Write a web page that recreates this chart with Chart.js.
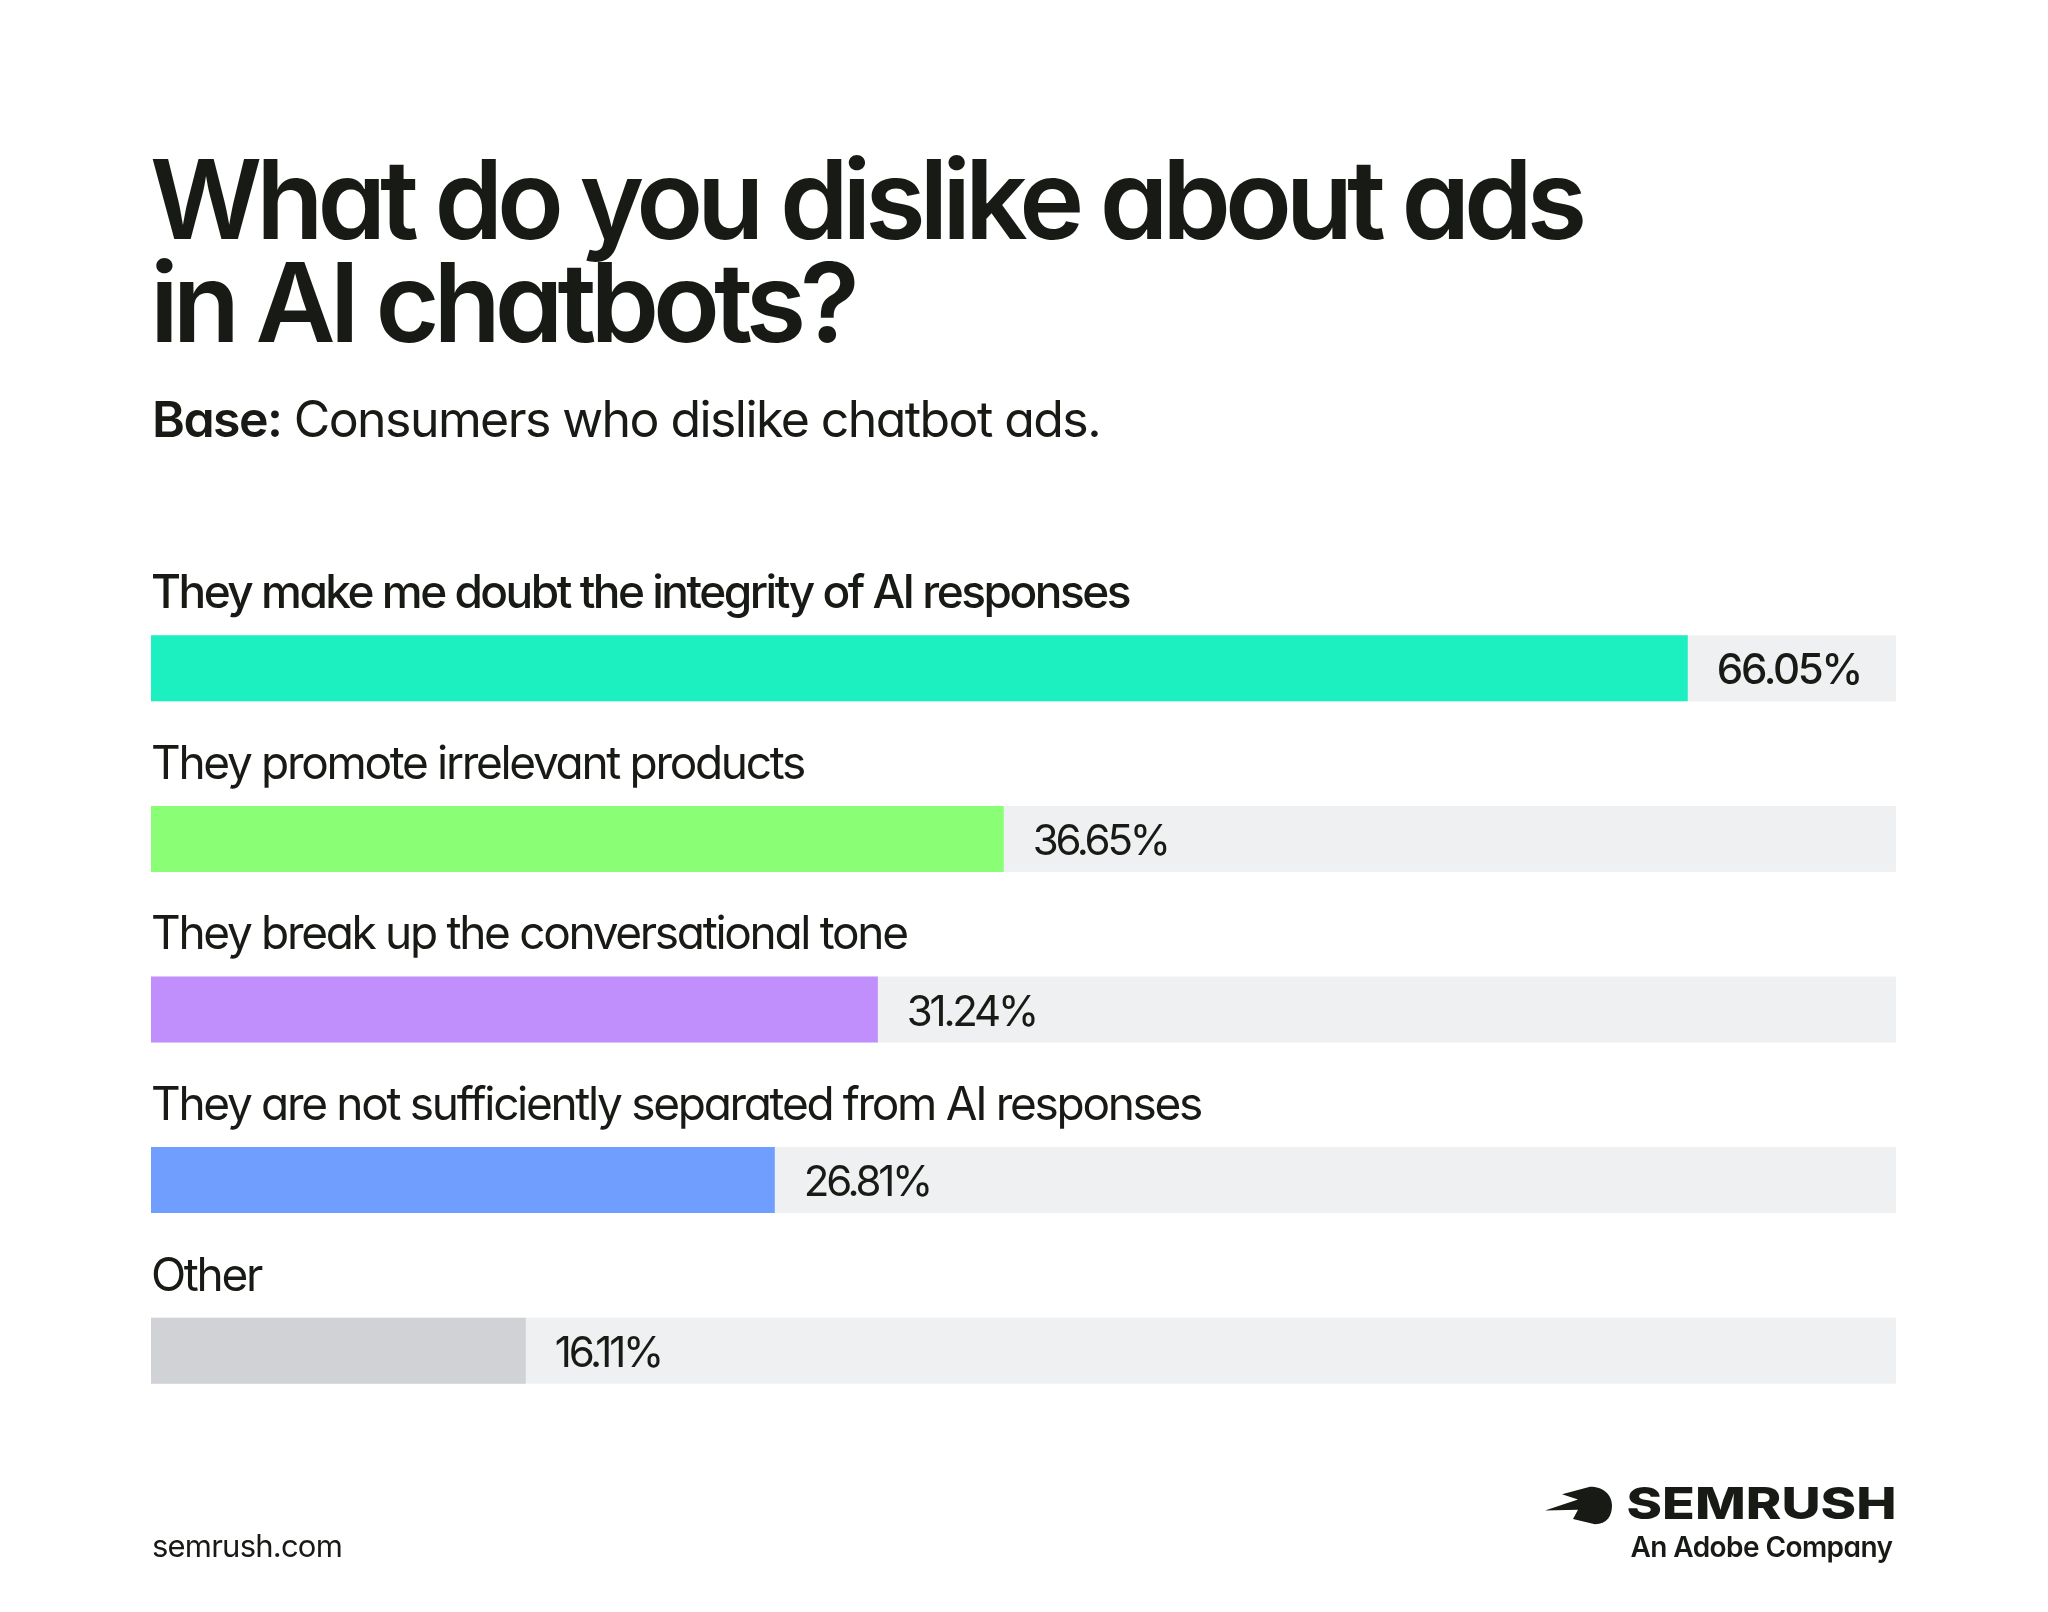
<!DOCTYPE html>
<html><head><meta charset="utf-8">
<script src="https://cdn.jsdelivr.net/npm/chart.js@4.4.1/dist/chart.umd.min.js"></script>
<style>
html,body{margin:0;padding:0;background:#fff;}
body{width:2048px;height:1612px;position:relative;overflow:hidden;font-family:Inter,"Noto Sans",sans-serif;color:#181b15;font-feature-settings:"cv11" 1;}
#c{position:absolute;left:0;top:0;}
.t{position:absolute;white-space:nowrap;line-height:1;left:0;top:0;}
.m{display:inline-block;width:0;height:0;vertical-align:baseline;}
#title1,#title2{font-weight:600;font-size:110px;}
#sub{font-size:50px;font-weight:400;}
#sub b{font-weight:600;}
#foot{font-size:31px;font-weight:400;}
#logo{font-weight:800;font-size:44px;font-family:Inter,sans-serif;transform-origin:100% 100%;}
#adobe{font-weight:600;font-size:28px;}
#icon{position:absolute;left:1545px;top:1485px;width:68px;height:40px;}
</style></head>
<body>
<canvas id="c" width="2048" height="1612"></canvas>
<div id="title1" class="t">What do you dislike about ads<span class="m"></span></div>
<div id="title2" class="t">in AI chatbots?<span class="m"></span></div>
<div id="sub" class="t"><b>Base:</b> Consumers who dislike chatbot ads.<span class="m"></span></div>
<div id="foot" class="t">semrush.com<span class="m"></span></div>
<svg id="icon" viewBox="0 0 68 47" preserveAspectRatio="none"><path d="M45,2 L17,11 L33,17 L0,30 L33,29 L28,40 L50,46 C62,46 67,36 67,24 C67,11 58,2 45,2 Z" fill="#181b15"/></svg>
<div id="logo" class="t">SEMRUSH<span class="m"></span></div>
<div id="adobe" class="t">An Adobe Company<span class="m"></span></div>
<script>
// ---- data ----
const categories = [
  "They make me doubt the integrity of AI responses",
  "They promote irrelevant products",
  "They break up the conversational tone",
  "They are not sufficiently separated from AI responses",
  "Other"
];
const values = [66.05, 36.65, 31.24, 26.81, 16.11];
const valueLabels = ["66.05%", "36.65%", "31.24%", "26.81%", "16.11%"];
const barColors = ["#1cefc0", "#8aff75", "#c18ffb", "#6f9eff", "#d1d2d6"];
const axisMin = 0;
const axisMax = 75;

// ---- HTML text placement helper ----
function place(id, x, baseline, targetW, anchorRight, ls) {
  const el = document.getElementById(id);
  const n = el.textContent.length;
  if (ls !== undefined) el.style.letterSpacing = ls + 'px';
  else if (targetW) {
    el.style.letterSpacing = '0px';
    const w0 = el.getBoundingClientRect().width;
    ls = (targetW - w0) / n;
    el.style.letterSpacing = ls + 'px';
  }
  const r = el.getBoundingClientRect();
  const mk = el.querySelector('.m').getBoundingClientRect();
  const dy = baseline - mk.top;
  el.style.top = (r.top + dy) + 'px';
  el.style.left = (anchorRight ? x - r.width + (ls || 0) : x) + 'px';
  return ls;
}
const tls = place('title1', 150, 239, 1431);
place('title2', 150, 342, null, false, tls);
place('sub', 152, 437, 948);
place('foot', 152, 1557, 190);
place('adobe', 1893, 1557, 262, true);
(function(){
  const el = document.getElementById('logo');
  const r0 = el.getBoundingClientRect();
  place('logo', 1896, 1519, null, true, 0);
  el.style.transform = 'scaleX(' + (270 / r0.width) + ')';
})();

// ---- chart ----
const TEXT = '#181b15';
function fitLS(ctx, font, text, target) {
  ctx.font = font; ctx.letterSpacing = '0px';
  const w0 = ctx.measureText(text).width;
  return (target - w0) / text.length;
}
const trackPlugin = {
  id: 'track',
  beforeDatasetsDraw(chart) {
    const {ctx, scales: {x}} = chart;
    const x0 = x.getPixelForValue(axisMin), x1 = x.getPixelForValue(axisMax);
    ctx.save();
    ctx.fillStyle = '#eff0f2';
    chart.getDatasetMeta(0).data.forEach(bar => {
      const p = bar.getProps(['y', 'height'], true);
      ctx.fillRect(x0, p.y - p.height / 2, x1 - x0, p.height);
    });
    ctx.restore();
  }
};
const labelPlugin = {
  id: 'labels',
  afterDatasetsDraw(chart) {
    const {ctx, scales: {x}} = chart;
    const left = x.getPixelForValue(axisMin);
    const fCatM = '500 46px Inter', fCatR = '400 46px Inter';
    const fValM = '500 42px Inter', fValR = '400 42px Inter';
    ctx.save();
    const lsCatM = fitLS(ctx, fCatM, categories[0], 978);
    const lsCatR = fitLS(ctx, fCatR, categories[3], 1050);
    const lsValM = fitLS(ctx, fValM, valueLabels[0], 144);
    const lsValR = fitLS(ctx, fValR, valueLabels[1], 135);
    ctx.fillStyle = TEXT;
    ctx.textBaseline = 'alphabetic';
    ctx.textAlign = 'left';
    chart.getDatasetMeta(0).data.forEach((bar, i) => {
      const p = bar.getProps(['x', 'y', 'height'], true);
      const top = p.y - p.height / 2;
      ctx.font = i === 0 ? fCatM : fCatR;
      ctx.letterSpacing = (i === 0 ? lsCatM : lsCatR) + 'px';
      ctx.fillText(categories[i], left, top - 27);
      ctx.font = i === 0 ? fValM : fValR;
      ctx.letterSpacing = (i === 0 ? lsValM : lsValR) + 'px';
      ctx.fillText(valueLabels[i], p.x + 29, p.y + 16);
    });
    ctx.restore();
  }
};
new Chart(document.getElementById('c'), {
  type: 'bar',
  data: {
    labels: categories,
    datasets: [{
      data: values,
      backgroundColor: barColors,
      borderWidth: 0,
      barPercentage: 0.387,
      categoryPercentage: 1
    }]
  },
  options: {
    indexAxis: 'y',
    responsive: false,
    animation: false,
    devicePixelRatio: 1,
    layout: {padding: {left: 151, right: 152, top: 583, bottom: 176}},
    scales: {
      x: {display: false, min: axisMin, max: axisMax},
      y: {display: false}
    },
    plugins: {legend: {display: false}, tooltip: {enabled: false}}
  },
  plugins: [trackPlugin, labelPlugin]
});
</script>
</body></html>
